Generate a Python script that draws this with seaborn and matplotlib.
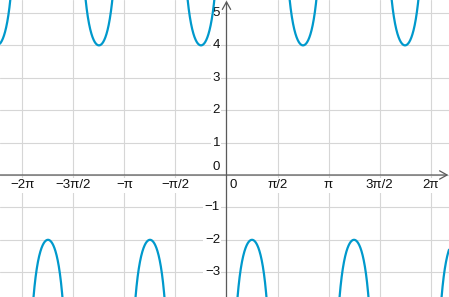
import numpy as np
import pandas as pd
import matplotlib
matplotlib.use("Agg")
import matplotlib.pyplot as plt
import seaborn as sns

# Function parameters: y = D + A / sin(B * x)
A = -3.0
B = 2.0
D = 1.0

x_tick_vals = [k * np.pi / 2 for k in range(-4, 5) if k != 0]
x_tick_labels = ["\u22122\u03c0", "\u22123\u03c0/2", "\u2212\u03c0", "\u2212\u03c0/2",
                 "\u03c0/2", "\u03c0", "3\u03c0/2", "2\u03c0"]
y_tick_vals = [-3, -2, -1, 1, 2, 3, 4, 5]
y_tick_labels = ["\u22123", "\u22122", "\u22121", "1", "2", "3", "4", "5"]

xmin, xmax = -6.975, 6.852
ymin, ymax = -3.765, 5.40

# build branches between asymptotes
xs = np.linspace(xmin, xmax, 6000)
s = np.sin(B * xs)
ys = D + A / s
seg = np.floor(B * xs / np.pi).astype(int)
df = pd.DataFrame({"x": xs, "y": ys, "seg": seg})
df = df[np.abs(df["y"]) < 30]

sns.set_theme(style="white")
plt.rcParams["font.family"] = ["Liberation Sans", "DejaVu Sans"]

fig = plt.figure(figsize=(4.49, 2.97), dpi=100)
ax = fig.add_axes([0, 0, 1, 1])
ax.set_xlim(xmin, xmax)
ax.set_ylim(ymin, ymax)
for sp in ax.spines.values():
    sp.set_visible(False)

grid_c = "#d6d6d6"
for xv in [k * np.pi / 2 for k in range(-5, 6)]:
    ax.axvline(xv, color=grid_c, lw=0.8, zorder=0)
for yv in range(-4, 6):
    ax.axhline(yv, color=grid_c, lw=0.8, zorder=0)

axis_c = "#5a5a5a"
ax.annotate("", xy=(xmax - 0.02, 0), xytext=(xmin, 0),
            arrowprops=dict(arrowstyle="->,head_length=0.45,head_width=0.25",
                            color=axis_c, lw=0.9, shrinkA=0, shrinkB=0), zorder=3)
ax.annotate("", xy=(0, ymax - 0.02), xytext=(0, ymin),
            arrowprops=dict(arrowstyle="->,head_length=0.45,head_width=0.25",
                            color=axis_c, lw=0.9, shrinkA=0, shrinkB=0), zorder=3)

sns.lineplot(data=df, x="x", y="y", units="seg", estimator=None, sort=False,
             color="#0099cc", lw=1.6, ax=ax, zorder=4, legend=False)

ax.set_xticks([])
ax.set_yticks([])
ax.set_xlabel("")
ax.set_ylabel("")

bbox = dict(facecolor="white", edgecolor="none", pad=1.0)
fs = 9.5
tc = "#111111"
for xv, lab in zip(x_tick_vals, x_tick_labels):
    ax.text(xv, -0.32, lab, ha="center", va="center", fontsize=fs, color=tc,
            bbox=bbox, zorder=2)
ax.text(0.21, -0.32, "0", ha="center", va="center", fontsize=fs, color=tc,
        bbox=bbox, zorder=2)
for yv, lab in zip(y_tick_vals, y_tick_labels):
    ax.text(-0.2, yv, lab, ha="right", va="center", fontsize=fs, color=tc,
            bbox=bbox, zorder=2)
ax.text(-0.2, 0.06, "0", ha="right", va="bottom", fontsize=fs, color=tc,
        bbox=bbox, zorder=2)

fig.savefig("out.png", dpi=100)
